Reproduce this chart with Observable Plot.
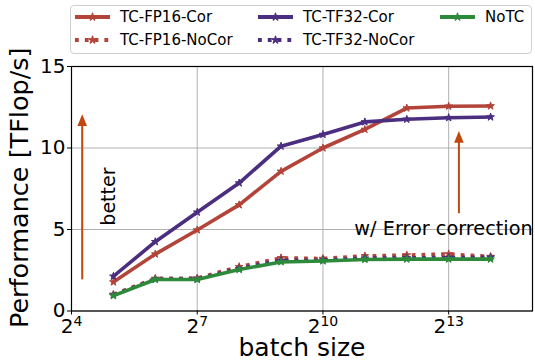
<!DOCTYPE html>
<html><head><meta charset="utf-8">
<script src="https://cdn.jsdelivr.net/npm/d3@7"></script>
<script src="https://cdn.jsdelivr.net/npm/@observablehq/plot@0.6"></script>
<style>
body{margin:0;background:#fff;font-family:"DejaVu Sans",sans-serif;}
#wrap{position:relative;width:535px;height:361px;overflow:hidden;}
#wrap svg.plot{position:absolute;left:0;top:0;}
#legend{position:absolute;left:70px;top:5px;width:460px;height:47px;border:1px solid #d0d0d0;border-radius:4px;background:#fff;z-index:2;}
.item{position:absolute;height:20px;display:flex;align-items:center;font-size:15px;color:#000;white-space:nowrap;}
.item svg{margin-right:10px;}
</style></head><body><div id="wrap"><div id="legend"></div></div>
<script>
// ---- data ----
const batchSizes = [32, 64, 128, 256, 512, 1024, 2048, 4096, 8192, 16384];
const seriesNames = ["TC-FP16-Cor", "TC-FP16-NoCor", "TC-TF32-Cor", "TC-TF32-NoCor", "NoTC"];
const fp16Cor   = [1.78, 3.49, 4.97, 6.51, 8.57, 10.0, 11.14, 12.45, 12.56, 12.58];
const fp16NoCor = [1.02, 2.0, 2.02, 2.72, 3.26, 3.22, 3.38, 3.43, 3.5, 3.34];
const tf32Cor   = [2.13, 4.25, 6.06, 7.85, 10.11, 10.83, 11.6, 11.76, 11.86, 11.9];
const tf32NoCor = [0.98, 1.95, 1.96, 2.6, 3.1, 3.12, 3.24, 3.26, 3.28, 3.3];
const noTC      = [0.94, 1.93, 1.93, 2.54, 3.01, 3.07, 3.16, 3.18, 3.18, 3.18];
const yTicks = [0, 5, 10, 15];
const xTicks = [16, 128, 1024, 8192];
const xTickExponents = ["4", "7", "10", "13"];
const xLabel = "batch size";
const yLabel = "Performance [TFlop/s]";
const note1 = "better";
const note2 = "w/ Error correction";
const arrows = [
  {x: 19.1, y1: 1.94, y2: 12.07},
  {x: 9700, y1: 6.0, y2: 11.04}
];
const notes = [
  {x: 29.5, y: 7.02, text: note1, rotate: -90},
  {x: 1720, y: 5.04, text: note2, rotate: 0}
];

// ---- styles ----
const RED = "#b3443a", PURPLE = "#4b2e80", GREEN = "#2e8a3b", ARROW = "#c2470e";
const styles = {
  "TC-FP16-Cor":   {color: RED, dash: null},
  "TC-FP16-NoCor": {color: RED, dash: "3.8,6"},
  "TC-TF32-Cor":   {color: PURPLE, dash: null},
  "TC-TF32-NoCor": {color: PURPLE, dash: "3.8,6"},
  "NoTC":          {color: GREEN, dash: null}
};
const valuesByName = {
  "TC-FP16-Cor": fp16Cor, "TC-FP16-NoCor": fp16NoCor,
  "TC-TF32-Cor": tf32Cor, "TC-TF32-NoCor": tf32NoCor, "NoTC": noTC
};

const seriesMarks = seriesNames.flatMap(name => {
  const rows = batchSizes.map((b, i) => ({batch: b, perf: valuesByName[name][i]}));
  const s = styles[name];
  return [
    Plot.line(rows, {x: "batch", y: "perf", stroke: s.color, strokeWidth: 3.6,
      strokeDasharray: s.dash || undefined, strokeLinejoin: "round", strokeLinecap: s.dash ? "butt" : "square"}),
    Plot.dot(rows, {x: "batch", y: "perf", symbol: "star", r: 2.4, fill: s.color, stroke: s.color, strokeWidth: 1})
  ];
});

const headSymbol = {draw(ctx) { ctx.moveTo(0, 0); ctx.lineTo(4.8, 11.7); ctx.lineTo(-4.8, 11.7); ctx.closePath(); }};

const tickLabelMarks = xTicks.flatMap((t, i) => {
  const e = xTickExponents[i];
  const wBase = 0.636 * 20, wExp = 0.636 * 14 * e.length;
  const start = -(wBase + wExp) / 2;
  return [
    Plot.text([t], {x: d => d, text: () => "2", frameAnchor: "bottom", textAnchor: "start", lineAnchor: "bottom", dx: start, dy: 21.5, fontSize: 20}),
    Plot.text([t], {x: d => d, text: () => e, frameAnchor: "bottom", textAnchor: "start", lineAnchor: "bottom", dx: start + wBase, dy: 15, fontSize: 14})
  ];
});

const chart = Plot.plot({
  width: 535, height: 361,
  marginTop: 66, marginLeft: 71, marginRight: 3, marginBottom: 50.5,
  x: {type: "log", base: 2, domain: [16, 32768]},
  y: {domain: [0, 15]},
  style: {fontFamily: "DejaVu Sans", color: "black", background: "transparent", overflow: "visible"},
  marks: [
    Plot.gridX({ticks: xTicks, stroke: "#b0b0b0", strokeOpacity: 1, strokeWidth: 1}),
    Plot.gridY({ticks: yTicks, stroke: "#b0b0b0", strokeOpacity: 1, strokeWidth: 1}),
    Plot.axisY({ticks: yTicks, tickSize: 4, tickPadding: 2, fontSize: 20, label: null, tickFormat: d => String(d)}),
    Plot.axisX({ticks: xTicks, tickSize: 4, tickFormat: () => "", label: null}),
    ...seriesMarks,
    Plot.link(arrows, {x1: "x", x2: "x", y1: "y1", y2: d => d.y2 - 0.3, stroke: ARROW, strokeWidth: 2}),
    Plot.dot(arrows, {x: "x", y: "y2", symbol: headSymbol, fill: ARROW, stroke: "none"}),
    Plot.text(notes.filter(n => n.rotate !== 0), {x: "x", y: "y", text: "text", rotate: -90, fontSize: 19, textAnchor: "middle", lineAnchor: "middle"}),
    Plot.text(notes.filter(n => n.rotate === 0), {x: "x", y: "y", text: "text", fontSize: 19.3, textAnchor: "start", lineAnchor: "middle"}),
    ...tickLabelMarks,
    Plot.text([xLabel], {text: d => d, frameAnchor: "bottom", textAnchor: "middle", lineAnchor: "bottom", dy: 44.5, fontSize: 25}),
    Plot.text([yLabel], {text: d => d, frameAnchor: "left", textAnchor: "middle", rotate: -90, lineAnchor: "bottom", dx: -43.5, dy: -1, fontSize: 25.5}),
    Plot.frame({stroke: "black", strokeWidth: 1.2})
  ]
});
chart.classList.add("plot");
document.getElementById("wrap").appendChild(chart);

// ---- legend ----
const legendLayout = [
  {name: "TC-FP16-Cor", col: 0, row: 0}, {name: "TC-FP16-NoCor", col: 0, row: 1},
  {name: "TC-TF32-Cor", col: 1, row: 0}, {name: "TC-TF32-NoCor", col: 1, row: 1},
  {name: "NoTC", col: 2, row: 0}
];
const colX = [4, 187, 369];
const rowY = [1, 24];
const starPath = d3.symbol(d3.symbolStar, 20)();
const legend = document.getElementById("legend");
legendLayout.forEach(({name, col, row}) => {
  const s = styles[name];
  const div = document.createElement("div");
  div.className = "item";
  div.style.left = colX[col] + "px";
  div.style.top = rowY[row] + "px";
  div.innerHTML = `<svg width="35" height="20"><line x1="0" y1="10" x2="35" y2="10" stroke="${s.color}" stroke-width="4" ${s.dash ? `stroke-dasharray="${s.dash}" stroke-dashoffset="0"` : ""}/>` +
    `<path d="${starPath}" transform="translate(17.5,10)" fill="${s.color}" stroke="${s.color}" stroke-width="1"/></svg><span>${name}</span>`;
  legend.appendChild(div);
});
</script>
</body></html>
